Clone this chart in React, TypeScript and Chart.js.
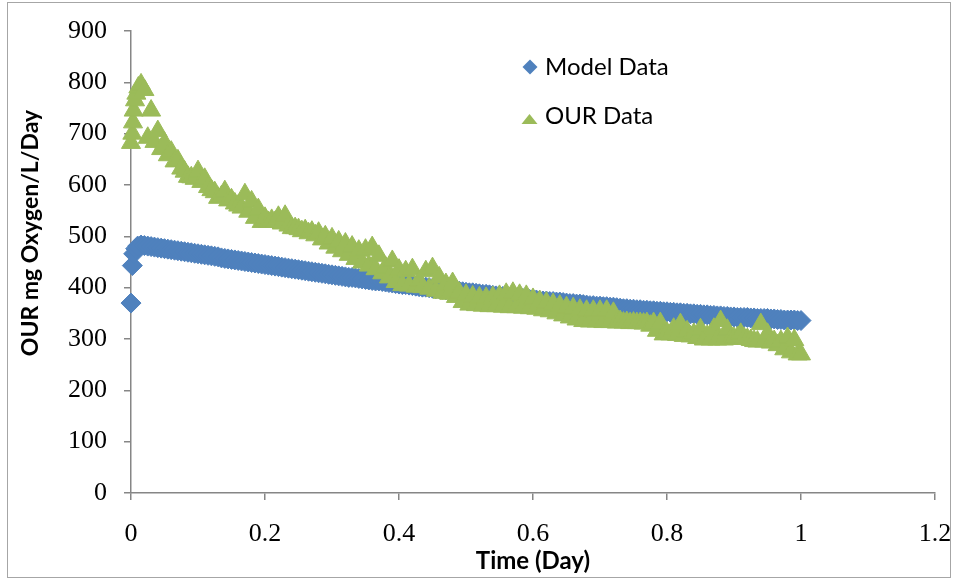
import React, { useEffect, useRef } from 'react';
import { Chart, registerables } from 'chart.js';

Chart.register(...registerables);

const seriesNames = ['Model Data', 'OUR Data'];

const modelTime = [
  0, 0.002, 0.004, 0.007, 0.01, 0.015,
  0.02, 0.025, 0.03, 0.035, 0.04, 0.045, 0.05, 0.055, 0.06, 0.065, 0.07, 0.075, 0.08, 0.085, 0.09, 0.095,
  0.1, 0.105, 0.11, 0.115, 0.12, 0.125, 0.13, 0.135, 0.14, 0.145, 0.15, 0.155, 0.16, 0.165, 0.17, 0.175, 0.18, 0.185, 0.19, 0.195,
  0.2, 0.205, 0.21, 0.215, 0.22, 0.225, 0.23, 0.235, 0.24, 0.245, 0.25, 0.255, 0.26, 0.265, 0.27, 0.275, 0.28, 0.285, 0.29, 0.295,
  0.3, 0.305, 0.31, 0.315, 0.32, 0.325, 0.33, 0.335, 0.34, 0.345, 0.35, 0.355, 0.36, 0.365, 0.37, 0.375, 0.38, 0.385, 0.39, 0.395,
  0.4, 0.405, 0.41, 0.415, 0.42, 0.425, 0.43, 0.435, 0.44, 0.445, 0.45, 0.455, 0.46, 0.465, 0.47, 0.475, 0.48, 0.485, 0.49, 0.495,
  0.5, 0.505, 0.51, 0.515, 0.52, 0.525, 0.53, 0.535, 0.54, 0.545, 0.55, 0.555, 0.56, 0.565, 0.57, 0.575, 0.58, 0.585, 0.59, 0.595,
  0.6, 0.605, 0.61, 0.615, 0.62, 0.625, 0.63, 0.635, 0.64, 0.645, 0.65, 0.655, 0.66, 0.665, 0.67, 0.675, 0.68, 0.685, 0.69, 0.695,
  0.7, 0.705, 0.71, 0.715, 0.72, 0.725, 0.73, 0.735, 0.74, 0.745, 0.75, 0.755, 0.76, 0.765, 0.77, 0.775, 0.78, 0.785, 0.79, 0.795,
  0.8, 0.805, 0.81, 0.815, 0.82, 0.825, 0.83, 0.835, 0.84, 0.845, 0.85, 0.855, 0.86, 0.865, 0.87, 0.875, 0.88, 0.885, 0.89, 0.895,
  0.9, 0.905, 0.91, 0.915, 0.92, 0.925, 0.93, 0.935, 0.94, 0.945, 0.95, 0.955, 0.96, 0.965, 0.97, 0.975, 0.98, 0.985, 0.99, 0.995,
  1.0,
];

const modelData = [
  370, 443, 466, 476, 481, 483,
  482, 481, 480, 479, 478, 477, 476, 475, 474, 473, 472, 471, 470, 469, 468, 467,
  466, 465, 464, 463, 462, 461, 460, 458, 457, 456, 455, 454, 453, 452, 451, 450, 449, 448, 447, 446,
  445, 444, 443, 442, 441, 440, 439, 438, 437, 436, 435, 434, 433, 432, 431, 430, 429, 428, 427, 426,
  425, 424, 423, 422, 421, 420, 420, 419, 418, 417, 416, 415, 414, 413, 413, 412, 411, 410, 409, 408,
  407, 406, 406, 405, 404, 403, 402, 401, 401, 400, 399, 398, 398, 397, 396, 395, 394, 393, 393, 392,
  391, 390, 390, 389, 388, 387, 387, 386, 385, 384, 384, 383, 382, 381, 381, 380, 380, 379, 378, 377,
  377, 376, 375, 374, 374, 373, 373, 372, 372, 371, 370, 369, 369, 368, 368, 367, 366, 365, 365, 364,
  364, 363, 363, 362, 362, 361, 360, 359, 359, 358, 358, 357, 357, 356, 356, 355, 355, 354, 354, 353,
  353, 352, 352, 351, 351, 350, 350, 349, 349, 348, 348, 347, 347, 346, 346, 345, 345, 344, 344, 343,
  343, 342, 342, 342, 342, 341, 341, 340, 340, 340, 340, 339, 339, 338, 338, 337, 337, 337, 337, 336,
  336,
];

const ourTime = [
  0, 0.002, 0.003, 0.004, 0.006, 0.008, 0.011, 0.015,
  0.02, 0.025, 0.03, 0.035, 0.04, 0.045, 0.05, 0.055, 0.06, 0.065, 0.07, 0.075, 0.08, 0.085, 0.09, 0.095,
  0.1, 0.105, 0.11, 0.115, 0.12, 0.125, 0.13, 0.135, 0.14, 0.145, 0.15, 0.155, 0.16, 0.165, 0.17, 0.175, 0.18, 0.185, 0.19, 0.195,
  0.2, 0.205, 0.21, 0.215, 0.22, 0.225, 0.23, 0.235, 0.24, 0.245, 0.25, 0.255, 0.26, 0.265, 0.27, 0.275, 0.28, 0.285, 0.29, 0.295,
  0.3, 0.305, 0.31, 0.315, 0.32, 0.325, 0.33, 0.335, 0.34, 0.345, 0.35, 0.355, 0.36, 0.365, 0.37, 0.375, 0.38, 0.385, 0.39, 0.395,
  0.4, 0.405, 0.41, 0.415, 0.42, 0.425, 0.43, 0.435, 0.44, 0.445, 0.45, 0.455, 0.46, 0.465, 0.47, 0.475, 0.48, 0.485, 0.49, 0.495,
  0.5, 0.505, 0.51, 0.515, 0.52, 0.525, 0.53, 0.535, 0.54, 0.545, 0.55, 0.555, 0.56, 0.565, 0.57, 0.575, 0.58, 0.585, 0.59, 0.595,
  0.6, 0.605, 0.61, 0.615, 0.62, 0.625, 0.63, 0.635, 0.64, 0.645, 0.65, 0.655, 0.66, 0.665, 0.67, 0.675, 0.68, 0.685, 0.69, 0.695,
  0.7, 0.705, 0.71, 0.715, 0.72, 0.725, 0.73, 0.735, 0.74, 0.745, 0.75, 0.755, 0.76, 0.765, 0.77, 0.775, 0.78, 0.785, 0.79, 0.795,
  0.8, 0.805, 0.81, 0.815, 0.82, 0.825, 0.83, 0.835, 0.84, 0.845, 0.85, 0.855, 0.86, 0.865, 0.87, 0.875, 0.88, 0.885, 0.89, 0.895,
  0.9, 0.905, 0.91, 0.915, 0.92, 0.925, 0.93, 0.935, 0.94, 0.945, 0.95, 0.955, 0.96, 0.965, 0.97, 0.975, 0.98, 0.985, 0.99, 0.995,
  1.0,
];

const ourData = [
  682, 700, 722, 745, 765, 778, 790, 796,
  785, 692, 745, 684, 705, 670, 682, 658, 665, 646, 648, 632, 626, 616, 615, 612,
  627, 606, 612, 596, 590, 586, 575, 578, 588, 570, 572, 564, 560, 556, 582, 548, 568, 536, 553, 528,
  536, 528, 532, 528, 538, 525, 540, 521, 516, 516, 514, 510, 512, 506, 509, 502, 507, 494, 500, 486,
  496, 478, 490, 471, 486, 464, 480, 456, 472, 449, 474, 443, 479, 436, 462, 428, 440, 420, 452, 411,
  435, 405, 432, 404, 436, 402, 413, 401, 432, 398, 438, 394, 420, 390, 407, 388, 409, 382, 390, 372,
  386, 367, 383, 366, 381, 365, 380, 364, 382, 364, 384, 363, 388, 362, 390, 362, 386, 361, 384, 360,
  378, 359, 374, 356, 371, 354, 368, 350, 365, 346, 362, 342, 360, 338, 357, 335, 355, 334, 355, 334,
  355, 333, 355, 333, 351, 332, 335, 332, 333, 331, 332, 331, 331, 330, 331, 326, 331, 316, 331, 309,
  312, 309, 320, 308, 329, 306, 315, 305, 310, 302, 319, 299, 306, 299, 320, 299, 335, 299, 318, 300,
  302, 303, 310, 302, 300, 298, 296, 295, 329, 295, 310, 293, 296, 288, 296, 280, 302, 274, 298, 270,
  270,
];

const xTickLabels = ['0', '0.2', '0.4', '0.6', '0.8', '1', '1.2'];
const yTickLabels = ['0', '100', '200', '300', '400', '500', '600', '700', '800', '900'];
const xAxisTitle = 'Time (Day)';
const yAxisTitle = 'OUR mg Oxygen/L/Day';

const BLUE = '#4F81BD';
const GREEN = '#9BBB59';
const AXIS = '#868686';

const overlayPlugin = {
  id: 'overlay',
  beforeDraw(chart: any) {
    const ctx = chart.ctx;
    ctx.save();
    ctx.fillStyle = '#ffffff';
    ctx.fillRect(0, 0, chart.width, chart.height);
    ctx.strokeStyle = '#a6a6a6';
    ctx.lineWidth = 1;
    ctx.strokeRect(7.5, 2.5, 943, 575);
    ctx.restore();
  },
  afterDraw(chart: any) {
    const ctx = chart.ctx;
    const a = chart.chartArea;
    ctx.save();
    ctx.fillStyle = '#000000';
    // x axis title
    ctx.font = 'bold 24px Lato';
    ctx.textAlign = 'center';
    ctx.textBaseline = 'alphabetic';
    ctx.fillText(xAxisTitle, (a.left + a.right) / 2, 569);
    // y axis title
    ctx.save();
    ctx.translate(38, 233);
    ctx.rotate(-Math.PI / 2);
    ctx.font = 'bold 23px Lato';
    ctx.textAlign = 'center';
    ctx.fillText(yAxisTitle, 0, 0);
    ctx.restore();
    // legend
    ctx.textAlign = 'left';
    ctx.font = '24px Lato';
    ctx.fillStyle = BLUE;
    ctx.beginPath();
    ctx.moveTo(530, 59.5);
    ctx.lineTo(537.5, 67);
    ctx.lineTo(530, 74.5);
    ctx.lineTo(522.5, 67);
    ctx.closePath();
    ctx.fill();
    ctx.fillStyle = '#000000';
    ctx.fillText(seriesNames[0], 545, 75);
    ctx.fillStyle = GREEN;
    ctx.beginPath();
    ctx.moveTo(529.5, 114);
    ctx.lineTo(537.5, 124);
    ctx.lineTo(521.5, 124);
    ctx.closePath();
    ctx.fill();
    ctx.fillStyle = '#000000';
    ctx.fillText(seriesNames[1], 545, 124);
    ctx.restore();
  },
};

export default function App() {
  const canvasRef = useRef<HTMLCanvasElement | null>(null);

  useEffect(() => {
    const canvas = canvasRef.current;
    if (!canvas) return;
    const chart = new Chart(canvas, {
      type: 'scatter',
      data: {
        datasets: [
          {
            label: seriesNames[0],
            data: modelTime.map((t, i) => ({ x: t, y: modelData[i] })),
            pointStyle: 'rectRot',
            pointRadius: 10,
            pointHoverRadius: 10,
            backgroundColor: BLUE,
            borderColor: BLUE,
            borderWidth: 1,
            order: 2,
            clip: false,
          },
          {
            label: seriesNames[1],
            data: ourTime.map((t, i) => ({ x: t, y: ourData[i] })),
            pointStyle: 'triangle',
            pointRadius: 11,
            pointHoverRadius: 11,
            backgroundColor: GREEN,
            borderColor: GREEN,
            borderWidth: 1,
            order: 1,
            clip: false,
          },
        ],
      },
      options: {
        animation: false,
        responsive: false,
        events: [],
        layout: { padding: { left: 0, top: 31, right: 23, bottom: 0 } },
        plugins: {
          legend: { display: false },
          tooltip: { enabled: false },
        },
        scales: {
          x: {
            type: 'linear',
            min: 0,
            max: 1.2,
            afterFit: (s: any) => {
              s.height = 88;
              s.paddingLeft = 0;
              s.paddingRight = 0;
            },
            border: { display: true, color: AXIS, width: 1.5 },
            grid: { drawOnChartArea: false, drawTicks: true, tickLength: 7, color: AXIS, lineWidth: 1.5 },
            ticks: {
              stepSize: 0.2,
              padding: 19,
              color: '#000000',
              font: { family: 'Liberation Serif', size: 26 },
              maxRotation: 0,
              autoSkip: false,
              callback: (_v: any, i: number) => xTickLabels[i],
            },
          },
          y: {
            type: 'linear',
            min: 0,
            max: 900,
            afterFit: (s: any) => {
              s.width = 131;
              s.paddingTop = 0;
              s.paddingBottom = 0;
            },
            border: { display: true, color: AXIS, width: 1.5 },
            grid: { drawOnChartArea: false, drawTicks: true, tickLength: 7, color: AXIS, lineWidth: 1.5 },
            ticks: {
              stepSize: 100,
              padding: 17,
              color: '#000000',
              font: { family: 'Liberation Serif', size: 26 },
              callback: (_v: any, i: number) => yTickLabels[i],
            },
          },
        },
      },
      plugins: [overlayPlugin],
    } as any);
    return () => chart.destroy();
  }, []);

  return (
    <div style={{ position: 'absolute', left: 0, top: 0, width: 958, height: 581 }}>
      <canvas ref={canvasRef} width={958} height={581} style={{ width: 958, height: 581, display: 'block' }} />
    </div>
  );
}
